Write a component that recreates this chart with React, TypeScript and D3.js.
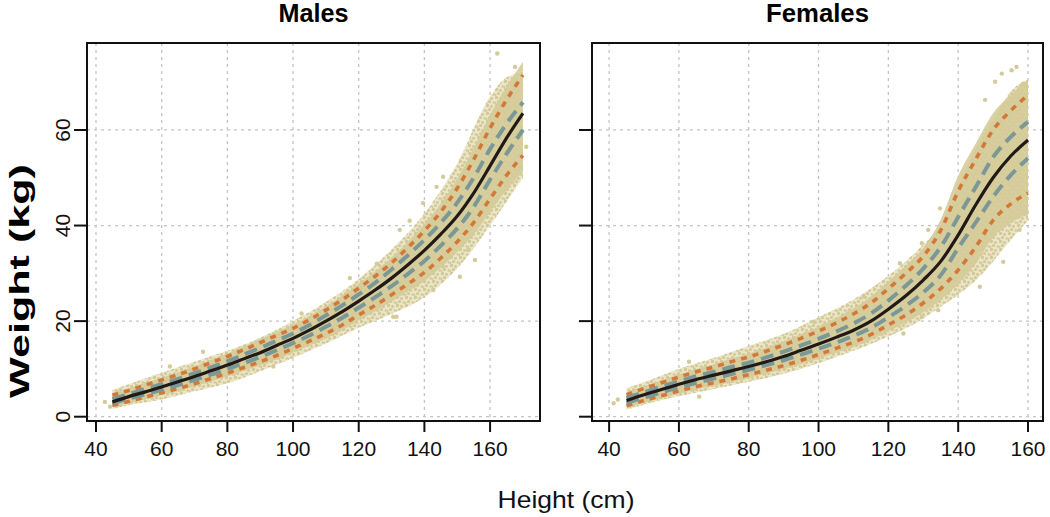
import * as d3 from "d3";
import { useEffect, useRef } from "react";

// heights at which the reference curves were read (cm)
const maleHeights = [45, 50, 55, 60, 65, 70, 75, 80, 85, 90, 95, 100, 105, 110, 115, 120, 125, 130, 135, 140, 145, 150, 155, 160, 165, 170];
const maleP05 = [2.4, 3.2, 4.1, 5.0, 5.9, 6.9, 8.0, 9.1, 10.3, 11.5, 12.8, 14.3, 15.8, 17.4, 19.2, 21.3, 23.3, 25.5, 27.8, 30.2, 33.2, 36.6, 40.6, 45.6, 50.5, 54.7];
const maleP25 = [2.8, 3.8, 4.7, 5.6, 6.6, 7.7, 8.8, 10.0, 11.2, 12.5, 13.9, 15.4, 17.0, 18.8, 20.7, 22.8, 25.0, 27.3, 29.9, 32.6, 35.8, 39.4, 43.9, 49.6, 55.0, 60.0];
const maleP50 = [3.1, 4.2, 5.2, 6.2, 7.3, 8.4, 9.6, 10.8, 12.1, 13.4, 14.9, 16.4, 18.1, 20.0, 22.0, 24.2, 26.5, 29.0, 31.8, 34.8, 38.2, 42.0, 46.8, 52.5, 58.3, 63.5];
const maleP75 = [3.7, 4.7, 5.8, 6.8, 7.9, 9.1, 10.3, 11.6, 13.0, 14.4, 15.9, 17.4, 19.2, 21.2, 23.3, 25.6, 28.0, 30.8, 33.8, 37.0, 40.6, 44.8, 50.0, 56.0, 61.3, 65.8];
const maleP95 = [4.5, 5.5, 6.6, 7.7, 8.8, 10.0, 11.3, 12.6, 14.0, 15.5, 17.0, 18.5, 20.3, 22.3, 24.5, 26.9, 29.4, 32.2, 35.4, 38.9, 42.9, 47.8, 53.8, 60.4, 66.3, 71.5];

const femaleHeights = [45, 50, 55, 60, 65, 70, 75, 80, 85, 90, 95, 100, 105, 110, 115, 120, 125, 130, 135, 140, 145, 150, 155, 160];
const femaleP05 = [2.3, 3.4, 4.4, 5.4, 6.3, 7.1, 7.9, 8.8, 9.7, 10.7, 11.8, 13.0, 14.3, 15.6, 17.2, 19.2, 21.3, 23.8, 26.8, 30.7, 35.5, 41.1, 44.5, 46.8];
const femaleP25 = [2.9, 4.0, 5.1, 6.2, 7.1, 8.0, 8.9, 9.8, 10.8, 11.8, 13.0, 14.2, 15.5, 16.9, 18.6, 20.8, 23.2, 26.0, 29.6, 35.3, 40.6, 46.0, 50.5, 54.1];
const femaleP50 = [3.4, 4.6, 5.7, 6.8, 7.8, 8.7, 9.6, 10.5, 11.5, 12.6, 13.9, 15.2, 16.6, 18.1, 20.0, 22.5, 25.3, 28.6, 32.5, 38.0, 44.3, 50.0, 54.5, 57.9];
const femaleP75 = [3.9, 5.1, 6.3, 7.4, 8.5, 9.4, 10.4, 11.3, 12.4, 13.6, 14.9, 16.3, 17.8, 19.5, 21.6, 24.3, 27.4, 31.0, 35.5, 41.8, 48.0, 54.3, 58.5, 61.7];
const femaleP95 = [4.6, 5.9, 7.1, 8.3, 9.4, 10.4, 11.5, 12.5, 13.7, 15.0, 16.4, 17.9, 19.6, 21.5, 23.8, 26.8, 30.0, 33.6, 39.0, 47.2, 53.8, 60.0, 64.0, 67.3];

// outer extent of the point clouds
const maleCloudH = [45, 50, 55, 60, 70, 80, 90, 100, 110, 120, 130, 140, 150, 160, 165, 170];
const maleCloudLow = [1.6, 2.4, 3.0, 3.6, 5.3, 7.0, 9.5, 12.3, 15.3, 18.6, 21.5, 25.0, 31.0, 40.0, 45.0, 50.0];
const maleCloudHigh = [5.6, 6.8, 8.0, 9.2, 11.5, 13.8, 16.5, 20.0, 24.0, 28.8, 35.0, 42.5, 53.0, 67.0, 71.0, 72.0];

const femaleCloudH = [45, 50, 55, 60, 70, 80, 90, 100, 110, 120, 130, 135, 140, 145, 150, 155, 160];
const femaleCloudLow = [1.5, 2.5, 3.5, 4.3, 5.8, 7.3, 9.0, 11.2, 13.8, 16.8, 20.5, 23.0, 25.5, 28.5, 32.5, 37.0, 41.0];
const femaleCloudHigh = [6.0, 7.2, 8.6, 10.0, 12.3, 14.8, 17.3, 20.8, 24.5, 29.5, 36.0, 40.0, 48.0, 56.0, 62.0, 68.0, 70.5];

// stray points outside the dense cloud [height, weight]
const maleStray: [number, number][] = [
  [162.2, 76.0], [167.6, 73.2], [139.6, 44.7], [155.4, 32.8], [150.8, 29.3], [153.3, 34.9],
  [169, 52.3], [171, 56.5], [130.5, 20.9], [145.7, 50.2], [143.7, 48.1], [132.5, 39.1],
  [131.5, 20.9], [145.7, 31.4], [142.7, 26.5], [117.3, 29.0], [102.6, 21.6], [94, 10.5],
  [72.6, 13.6], [62.5, 10.5], [42.7, 3.1], [44.3, 2.1], [135.5, 41.0], [125.5, 32.0],
];
const femaleStray: [number, number][] = [
  [156.7, 73.2], [155.3, 72.5], [152.5, 71.8], [150.6, 70.1], [147.7, 66.3], [158.6, 69.7],
  [152.9, 32.4], [146.2, 27.2], [129.6, 36.3], [134.8, 43.6], [131.4, 39.1], [159.6, 42.9],
  [157.6, 39.1], [134.3, 22.3], [123.3, 32.1], [124.3, 17.4], [129.6, 20.9], [96.7, 12.6],
  [98.6, 19.9], [112.9, 25.1], [62.9, 11.5], [65.8, 4.2], [41.3, 2.8], [42.5, 3.6],
];

const xTicks = [40, 60, 80, 100, 120, 140, 160];
const yTicks = [0, 20, 40, 60];

type Panel = {
  title: string;
  titleLength: number;
  left: number;
  right: number;
  xDomain: [number, number];
  heights: number[];
  p05: number[];
  p25: number[];
  p50: number[];
  p75: number[];
  p95: number[];
  cloudH: number[];
  cloudLow: number[];
  cloudHigh: number[];
  stray: [number, number][];
  yLabels: boolean;
};

const panels: Panel[] = [
  {
    title: "Males", titleLength: 70, left: 87, right: 540, xDomain: [37.26, 175.2],
    heights: maleHeights, p05: maleP05, p25: maleP25, p50: maleP50, p75: maleP75, p95: maleP95,
    cloudH: maleCloudH, cloudLow: maleCloudLow, cloudHigh: maleCloudHigh, stray: maleStray, yLabels: true,
  },
  {
    title: "Females", titleLength: 103, left: 592, right: 1043, xDomain: [35.1, 164.3],
    heights: femaleHeights, p05: femaleP05, p25: femaleP25, p50: femaleP50, p75: femaleP75, p95: femaleP95,
    cloudH: femaleCloudH, cloudLow: femaleCloudLow, cloudHigh: femaleCloudHigh, stray: femaleStray, yLabels: false,
  },
];

const W = 1050;
const H = 517;
const top = 43;
const bottom = 421;
const font = "Liberation Sans, Arial, Helvetica, sans-serif";

export default function App() {
  const ref = useRef<SVGSVGElement | null>(null);

  useEffect(() => {
    const svg = d3.select(ref.current);
    svg.selectAll("*").remove();

    // speckle texture for the sparse edge of the point cloud
    const defs = svg.append("defs");
    const pat = defs.append("pattern").attr("id", "dots").attr("patternUnits", "userSpaceOnUse")
      .attr("width", 9).attr("height", 8);
    [[1.5, 1.5, 1.6], [5.5, 2.5, 1.4], [3.5, 5.5, 1.6], [7.8, 6.5, 1.3], [0.5, 7.0, 1.0]].forEach(([cx, cy, r]) => {
      pat.append("circle").attr("cx", cx).attr("cy", cy).attr("r", r).attr("fill", "#d2c894");
    });

    const y = d3.scaleLinear().domain([-0.9, 78.2]).range([bottom, top]);

    panels.forEach((p) => {
      const x = d3.scaleLinear().domain(p.xDomain).range([p.left, p.right]);
      const g = svg.append("g");

      // grid
      g.selectAll(".gx").data(xTicks).join("line")
        .attr("x1", (d) => x(d)).attr("x2", (d) => x(d)).attr("y1", top).attr("y2", bottom)
        .attr("stroke", "#c4c4c4").attr("stroke-width", 1.3).attr("stroke-dasharray", "3 4");
      g.selectAll(".gy").data(yTicks).join("line")
        .attr("x1", p.left).attr("x2", p.right).attr("y1", (d) => y(d)).attr("y2", (d) => y(d))
        .attr("stroke", "#c4c4c4").attr("stroke-width", 1.3).attr("stroke-dasharray", "3 4");

      // point cloud
      const cloud = d3.area<number>()
        .x((_, i) => x(p.cloudH[i]))
        .y0((_, i) => y(p.cloudLow[i]))
        .y1((_, i) => y(p.cloudHigh[i]))
        .curve(d3.curveMonotoneX);
      g.append("path").datum(p.cloudH).attr("d", cloud).attr("fill", "#e6e0bf").attr("opacity", 0.85);
      g.append("path").datum(p.cloudH).attr("d", cloud).attr("fill", "url(#dots)");

      const dense = d3.area<number>()
        .x((d) => x(d))
        .y0((_, i) => y(p.p05[i] - (p.p50[i] - p.p05[i]) * 0.4))
        .y1((_, i) => y(p.p95[i] + (p.p95[i] - p.p50[i]) * 0.35))
        .curve(d3.curveMonotoneX);
      g.append("path").datum(p.heights).attr("d", dense).attr("fill", "#d5cb99").attr("opacity", 0.9);

      g.selectAll(".stray").data(p.stray).join("circle")
        .attr("cx", (d) => x(d[0])).attr("cy", (d) => y(d[1])).attr("r", 2.2)
        .attr("fill", "#d4cb9a");

      const line = (vals: number[]) =>
        d3.line<number>().x((d) => x(d)).y((_, i) => y(vals[i])).curve(d3.curveMonotoneX)(p.heights) ?? "";

      [p.p05, p.p95].forEach((vals) => {
        g.append("path").attr("d", line(vals)).attr("fill", "none")
          .attr("stroke", "#d4783a").attr("stroke-width", 3.6).attr("stroke-dasharray", "6 6");
      });
      [p.p25, p.p75].forEach((vals) => {
        g.append("path").attr("d", line(vals)).attr("fill", "none")
          .attr("stroke", "#7b9897").attr("stroke-width", 4).attr("stroke-dasharray", "13 7");
      });
      g.append("path").attr("d", line(p.p50)).attr("fill", "none")
        .attr("stroke", "#211916").attr("stroke-width", 3.2);

      // box
      g.append("rect").attr("x", p.left).attr("y", top).attr("width", p.right - p.left)
        .attr("height", bottom - top).attr("fill", "none").attr("stroke", "#111").attr("stroke-width", 2);

      // x axis
      g.selectAll(".tx").data(xTicks).join("line")
        .attr("x1", (d) => x(d)).attr("x2", (d) => x(d)).attr("y1", bottom).attr("y2", bottom + 11)
        .attr("stroke", "#111").attr("stroke-width", 2);
      g.selectAll(".lx").data(xTicks).join("text")
        .attr("x", (d) => x(d)).attr("y", 456).attr("text-anchor", "middle")
        .attr("font-family", font).attr("font-size", 21).attr("fill", "#111")
        .text((d) => d.toString());

      // y axis
      g.selectAll(".ty").data(yTicks).join("line")
        .attr("x1", p.left - 13).attr("x2", p.left).attr("y1", (d) => y(d)).attr("y2", (d) => y(d))
        .attr("stroke", "#111").attr("stroke-width", 2);
      if (p.yLabels) {
        g.selectAll(".ly").data(yTicks).join("text")
          .attr("transform", (d) => `translate(70,${y(d)}) rotate(-90)`)
          .attr("text-anchor", "middle")
          .attr("font-family", font).attr("font-size", 21).attr("fill", "#111")
          .text((d) => d.toString());
      }

      g.append("text").attr("x", (p.left + p.right) / 2).attr("y", 22).attr("text-anchor", "middle")
        .attr("font-family", font).attr("font-size", 25).attr("font-weight", "bold").attr("fill", "#000")
        .attr("textLength", p.titleLength).attr("lengthAdjust", "spacingAndGlyphs")
        .text(p.title);
    });

    svg.append("text").attr("x", 566).attr("y", 508).attr("text-anchor", "middle")
      .attr("font-family", font).attr("font-size", 24).attr("fill", "#111")
      .attr("textLength", 137).attr("lengthAdjust", "spacingAndGlyphs")
      .text("Height (cm)");

    svg.append("text").attr("transform", "translate(29,281) rotate(-90)").attr("text-anchor", "middle")
      .attr("font-family", font).attr("font-size", 28).attr("font-weight", "bold").attr("fill", "#000")
      .attr("textLength", 234).attr("lengthAdjust", "spacingAndGlyphs")
      .text("Weight (kg)");
  }, []);

  return (
    <svg ref={ref} width={W} height={H} style={{ position: "absolute", left: 0, top: 0, background: "#fff" }} />
  );
}
